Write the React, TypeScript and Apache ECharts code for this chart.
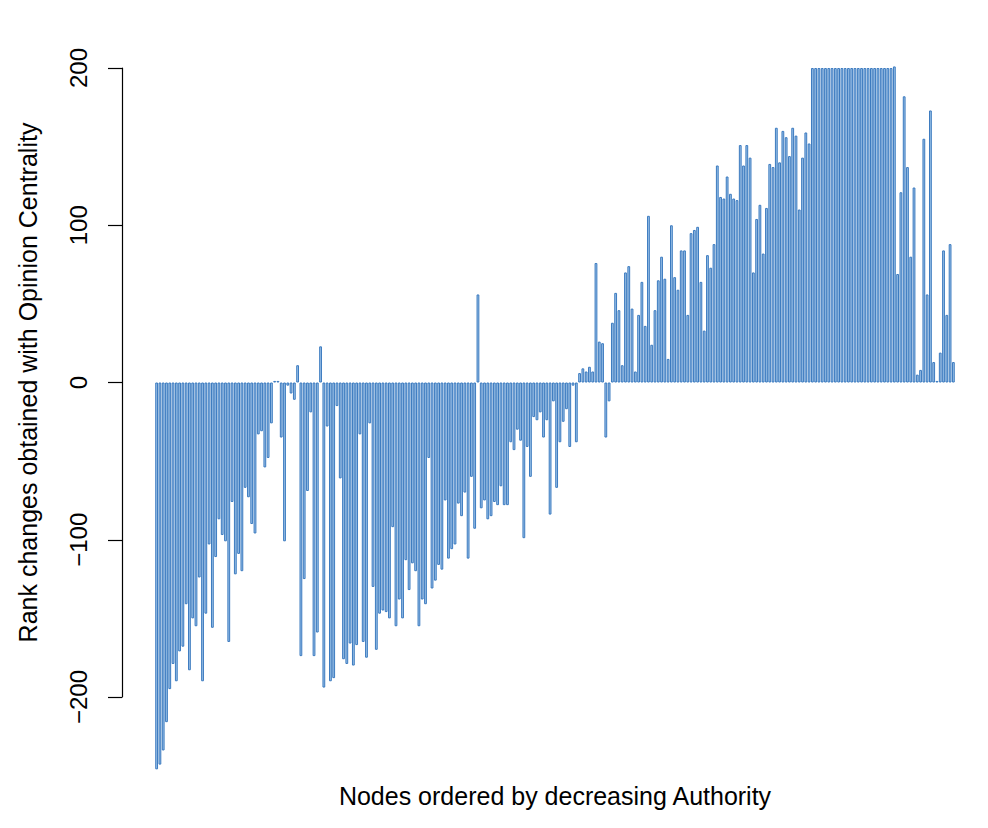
import React, { useEffect, useRef } from "react";
import * as echarts from "echarts";

const seg1 = [-246, -243, -234, -216, -195, -179, -190, -171, -168, -141, -183, -150, -155, -124, -190, -147, -103, -156, -111, -87, -97, -101, -165, -76, -122, -109, -120, -67, -73];
const seg2 = [-90, -96, -33, -31, -54, -48, -26, 1, 1, -35, -101, -2, -7, -11, 11, -174, -125, -69, -19, -174, -159, 23, -194, -28, -190, -188, -15, -61, -176, -179, -166];
const seg3 = [-180, -167, -33, -165, -175, -26, -130, -170, -147, -145, -146, -150, -92, -155, -138, -150, -113, -132, -115, -120, -155, -138, -141, -48, -131, -126, -116, -119, -75, -112];
const seg4 = [-106, -103, -77, -85, -70, -112, -60, -93, 56, -80, -75, -87, -85, -76, -78, -66, -78, -78, -38, -43, -30, -37, -99, -41, -60, -22, -24, -19, -35, -24, -84];
const seg5 = [-12, -67, -38, -25, -17, -41, -2, -38, 6, 9, 7, 10, 7, 76, 26, 25, -35, -12, 38, 57, 46, 11, 70, 74, 47, 7, 43, 64, 36, 106];
const seg6 = [24, 46, 65, 80, 66, 15, 100, 67, 59, 84, 84, 43, 95, 97, 99, 64, 33, 81, 73, 88, 138, 118, 117, 131, 120, 117, 116, 151, 138, 151, 143];
const seg7 = [70, 104, 113, 82, 111, 139, 137, 162, 140, 160, 156, 144, 162, 157, 110, 143, 159, 152];
const plateau = [200, 200, 200, 200, 200, 200, 200, 200, 200, 200, 200, 200, 200, 200, 200, 200, 200, 200, 200, 200, 200, 200, 200, 200, 200, 201];
const seg8 = [69, 121, 182, 137, 80, 124, 5, 8, 155, 56, 173, 13, 1, 19, 84, 43, 88, 13];

const rankChanges = [...seg1, ...seg2, ...seg3, ...seg4, ...seg5, ...seg6, ...seg7, ...plateau, ...seg8];
const nodes = rankChanges.map((_, i) => String(i + 1));
const yTicks = [-200, -100, 0, 100, 200];

const FONT = "'Liberation Sans', Arial, Helvetica, sans-serif";

export default function App() {
  const ref = useRef<HTMLDivElement>(null);
  useEffect(() => {
    if (!ref.current) return;
    const chart = echarts.init(ref.current, undefined, { renderer: "svg" });
    // the div sits at (8, 8) because of the body margin
    const pxPerUnit = 629 / 400;
    const yMin0 = -250;
    const yMax0 = 205;
    const top0 = 60 - (yMax0 - 200) * pxPerUnit;
    const h0 = (yMax0 - yMin0) * pxPerUnit;
    chart.setOption({
      animation: false,
      backgroundColor: "#ffffff",
      grid: [
        { left: 147, right: 25, top: top0, height: h0 },
        { left: 114, width: 20, top: 60, height: 629 },
      ],
      xAxis: [
        {
          type: "category",
          gridIndex: 0,
          data: nodes,
          axisLine: { show: false, onZero: false },
          axisTick: { show: false },
          axisLabel: { show: false },
          name: "Nodes ordered by decreasing Authority",
          nameLocation: "middle",
          nameGap: 8,
          nameTextStyle: { fontSize: 25, color: "#000", fontFamily: FONT },
        },
        {
          type: "value",
          gridIndex: 1,
          show: false,
        },
      ],
      yAxis: [
        {
          type: "value",
          gridIndex: 0,
          min: yMin0,
          max: yMax0,
          show: false,
        },
        {
          type: "value",
          gridIndex: 1,
          min: yTicks[0],
          max: yTicks[yTicks.length - 1],
          interval: 100,
          axisLine: { show: true, lineStyle: { color: "#000", width: 1.2 } },
          axisTick: { show: true, length: 14, lineStyle: { color: "#000", width: 1.2 } },
          axisLabel: {
            rotate: 90,
            margin: 32,
            align: "center",
            verticalAlign: "bottom",
            fontSize: 24,
            color: "#000",
            fontFamily: FONT,
            formatter: (v: number) => (v < 0 ? "\u2212" + Math.abs(v) : String(v)),
          },
          splitLine: { show: false },
          name: "Rank changes obtained with Opinion Centrality",
          nameLocation: "middle",
          nameRotate: 90,
          nameGap: 82,
          nameTextStyle: { fontSize: 25, color: "#000", fontFamily: FONT },
        },
      ],
      series: [
        {
          type: "bar",
          xAxisIndex: 0,
          yAxisIndex: 0,
          data: rankChanges,
          barCategoryGap: "15%",
          clip: false,
          itemStyle: {
            color: "#9cc2e8",
            borderColor: "#3b7abf",
            borderWidth: 1,
          },
        },
      ],
    });
    return () => chart.dispose();
  }, []);
  return <div ref={ref} style={{ width: 972, height: 812 }} />;
}
